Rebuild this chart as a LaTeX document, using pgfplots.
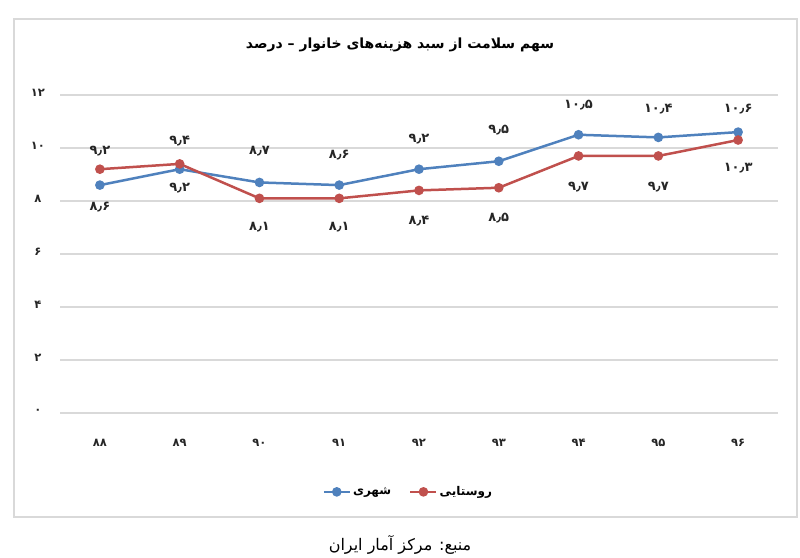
\documentclass[border=0pt]{standalone}
\usepackage{fontspec}
\usepackage{pgfplots}
\pgfplotsset{compat=1.18}
\TeXXeTstate=1
\newfontfamily\arabicfont[Script=Arabic]{DejaVu Sans}
\definecolor{urb}{RGB}{79,129,189}
\definecolor{rur}{RGB}{192,80,77}
\definecolor{gridc}{RGB}{217,217,217}

\begin{document}
\begin{tikzpicture}[x=1pt,y=1pt]
\path[use as bounding box] (0,0) rectangle (800,557);
\draw[gridc, line width=1.2pt] (14,40) rectangle (797,538);
\node[font=\arabicfont\bfseries\fontsize{14}{16}\selectfont] at (400,512)
  {\beginR سهم سلامت از سبد هزینه^^^^200cهای خانوار – درصد\endR};
\node[font=\arabicfont\fontsize{16}{18}\selectfont] at (400,12)
  {\beginR منبع: مرکز آمار ایران\endR};
\begin{axis}[
  at={(60pt,144pt)}, anchor=south west,
  scale only axis, width=718pt, height=318pt,
  xmin=-0.5, xmax=8.5, ymin=0, ymax=12,
  axis line style={draw=none},
  major tick length=0pt,
  xtick={0,...,8},
  xticklabels={۸۸,۸۹,۹۰,۹۱,۹۲,۹۳,۹۴,۹۵,۹۶},
  ytick={0,2,...,12},
  yticklabels={۰,۲,۴,۶,۸,۱۰,۱۲},
  ymajorgrids, grid style={gridc, line width=1.2pt},
  ticklabel style={font=\arabicfont\bfseries\fontsize{11.5}{13}\selectfont, text=black!85},
  xticklabel style={anchor=center, yshift=-30pt},
  yticklabel style={anchor=center, xshift=-22pt, yshift=2pt},
  clip=false,
  point meta=explicit symbolic,
  visualization depends on={\thisrow{off}\as\myoff},
  nodes near coords,
  every node near coord/.append style={anchor=center, yshift=\myoff pt,
    font=\arabicfont\bfseries\fontsize{13}{15}\selectfont, text=black!85},
  legend columns=2,
  legend style={at={(0.485,-0.248)}, anchor=center, draw=none, fill=none,
    font=\arabicfont\bfseries\fontsize{12}{14}\selectfont,
    /tikz/every even column/.append style={column sep=16pt}},
  legend image code/.code={\draw[mark repeat=2,mark phase=2,#1]
    plot coordinates {(0pt,0pt) (13pt,0pt) (26pt,0pt)};},
]
\addplot[urb, line width=2.5pt, mark=*, mark size=3.5pt, mark options={fill=urb}]
  table[x=x, y=y, meta=lbl] {
x y off lbl
0 8.6 -22 ۸٫۶
1 9.2 -19 ۹٫۲
2 8.7 31 ۸٫۷
3 8.6 30 ۸٫۶
4 9.2 30 ۹٫۲
5 9.5 31 ۹٫۵
6 10.5 30 ۱۰٫۵
7 10.4 28 ۱۰٫۴
8 10.6 23 ۱۰٫۶
};
\addlegendentry{\beginR شهری\endR}
\addplot[rur, line width=2.5pt, mark=*, mark size=3.5pt, mark options={fill=rur}]
  table[x=x, y=y, meta=lbl] {
x y off lbl
0 9.2 18 ۹٫۲
1 9.4 23 ۹٫۴
2 8.1 -29 ۸٫۱
3 8.1 -29 ۸٫۱
4 8.4 -31 ۸٫۴
5 8.5 -30 ۸٫۵
6 9.7 -31 ۹٫۷
7 9.7 -31 ۹٫۷
8 10.3 -28 ۱۰٫۳
};
\addlegendentry{\beginR روستایی\endR}
\end{axis}
\end{tikzpicture}
\end{document}
